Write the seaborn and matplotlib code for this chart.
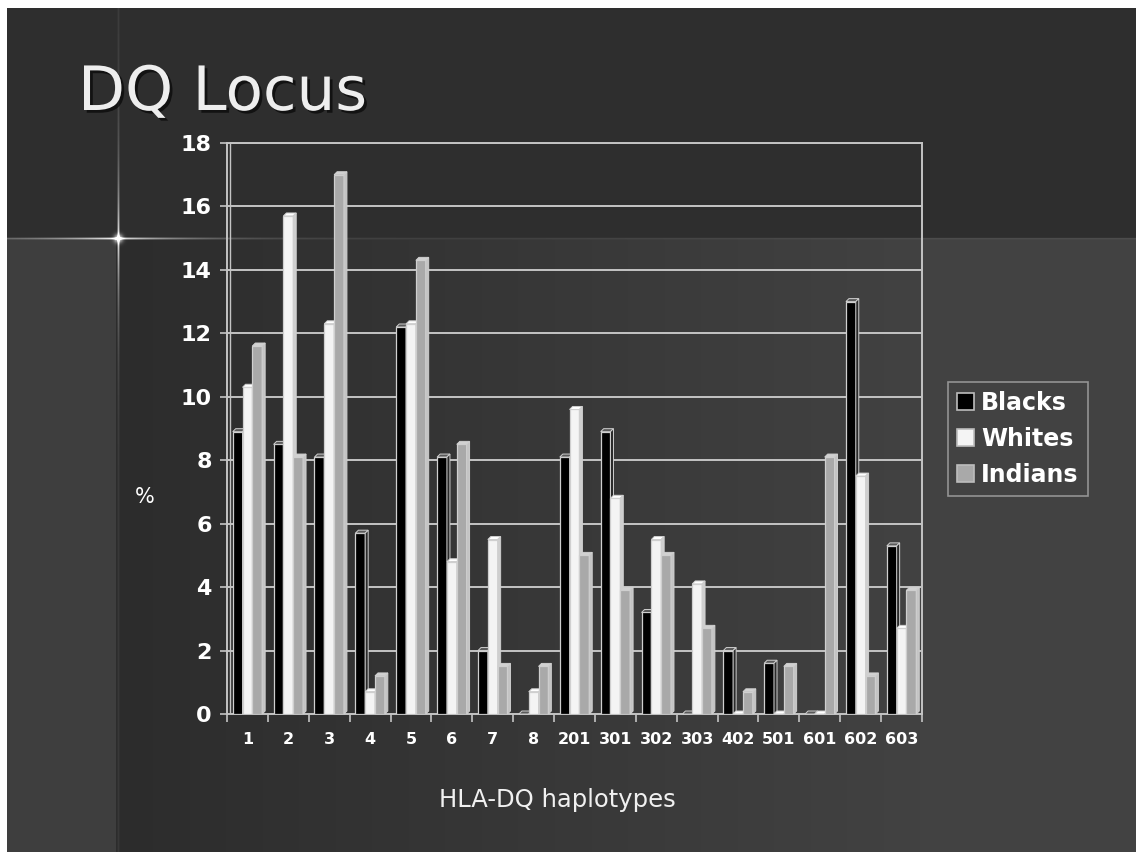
import numpy as np
import pandas as pd
import matplotlib
matplotlib.use("Agg")
import matplotlib.pyplot as plt
import seaborn as sns
from matplotlib.patches import Patch, Polygon
from matplotlib import patheffects as pe

# HLA-DQ haplotype frequencies (%) by population
haplotypes = ["1", "2", "3", "4", "5", "6", "7", "8", "201", "301", "302",
              "303", "402", "501", "601", "602", "603"]
blacks = [8.9, 8.5, 8.1, 5.7, 12.2, 8.1, 2.0, 0.0, 8.1, 8.9, 3.2,
          0.0, 2.0, 1.6, 0.0, 13.0, 5.3]
whites = [10.3, 15.7, 12.3, 0.7, 12.3, 4.8, 5.5, 0.7, 9.6, 6.8, 5.5,
          4.1, 0.0, 0.0, 0.0, 7.5, 2.7]
indians = [11.6, 8.1, 17.0, 1.2, 14.3, 8.5, 1.5, 1.5, 5.0, 3.9, 5.0,
           2.7, 0.7, 1.5, 8.1, 1.2, 3.9]
groups = ["Blacks", "Whites", "Indians"]
y_ticks = [0, 2, 4, 6, 8, 10, 12, 14, 16, 18]

df = pd.DataFrame({
    "haplotype": haplotypes * 3,
    "pct": blacks + whites + indians,
    "group": [g for g in groups for _ in haplotypes],
})

face = {"Blacks": "#000000", "Whites": "#f4f4f4", "Indians": "#a9a9a9"}
cap = {"Blacks": "#5a5a5a", "Whites": "#ffffff", "Indians": "#d2d2d2"}
side = {"Blacks": "#2a2a2a", "Whites": "#cfcfcf", "Indians": "#c4c4c4"}
edge = "#cfcfcf"
grid_c = "#c4c4c4"

W, H, DPI = 1136, 852, 100
fig = plt.figure(figsize=(W / DPI, H / DPI), dpi=DPI)

# ---- slide background ----
bg = np.full((H, W), 46.0)
xs = np.arange(W)
ys = np.arange(H)
band = 238
grad = 44 + np.clip((xs - 116) / (920 - 116), 0, 1) * 22
bg[band:, :] = grad[None, :]
bg[band:, :116] = 62
# sparkle at (118, 238)
cx, cy = 118, 238
vx = np.exp(-np.abs(ys - cy) / 50.0) * 180 + 12
hx = np.exp(-np.abs(xs - cx) / 65.0) * 180 + 10
for off, k in ((0, 1.0), (-1, 0.4), (1, 0.4)):
    bg[:, cx + off] += vx * k
    bg[cy + off, :] += hx * k
YY, XX = np.mgrid[0:H, 0:W]
bg += 200 * np.exp(-((XX - cx) ** 2 + (YY - cy) ** 2) / (2 * 3.0 ** 2))
bg[:8, :] = 255
bg[:, :7] = 255
bg = np.clip(bg, 0, 255) / 255.0
img = np.dstack([bg, bg, bg])
fig.figimage(img, xo=0, yo=0, origin="upper", zorder=-10)

sns.set_style("dark")

ax = fig.add_axes([227 / W, 1 - 714 / H, (922 - 227) / W, (714 - 143) / H])
ax.set_zorder(2)
ax.set_facecolor("none")

sns.barplot(data=df, x="haplotype", y="pct", hue="group", order=haplotypes,
            hue_order=groups, palette=face, width=0.72, errorbar=None,
            edgecolor=edge, linewidth=0.9, legend=False, ax=ax)

# pseudo-3D caps and side faces derived from each bar
dx = 3 / 40.9
dy = 3 / 31.7
for i, (g, cont) in enumerate(zip(groups, ax.containers)):
    z = 3 + i * 0.1
    for bar in cont:
        bar.set_zorder(z)
        x0, w, h = bar.get_x(), bar.get_width(), bar.get_height()
        top = Polygon([(x0, h), (x0 + dx, h + dy), (x0 + w + dx, h + dy), (x0 + w, h)],
                      closed=True, facecolor=cap[g], edgecolor=edge, lw=0.7,
                      zorder=z + 0.01, clip_on=False)
        sd = Polygon([(x0 + w, 0), (x0 + w + dx, dy), (x0 + w + dx, h + dy), (x0 + w, h)],
                     closed=True, facecolor=side[g], edgecolor=edge, lw=0.7,
                     zorder=z + 0.01, clip_on=False)
        ax.add_patch(top)
        ax.add_patch(sd)

ax.set_xlim(-0.5, len(haplotypes) - 0.5)
ax.set_ylim(0, 18)
ax.set_yticks(y_ticks)
ax.set_yticklabels([str(t) for t in y_ticks])
ax.set_xlabel("")
ax.set_ylabel("")
ax.grid(False)

for t in y_ticks[1:]:
    ax.axhline(t, color=grid_c, lw=1.4, zorder=1)
ax.axvline(-0.5 + 3 / 40.9, color=grid_c, lw=1.0, zorder=1)

for s in ax.spines.values():
    s.set_visible(True)
    s.set_color(grid_c)
    s.set_linewidth(1.4)

ax.set_xticks(np.arange(-0.5, len(haplotypes)), minor=True)
ax.tick_params(axis="x", which="major", bottom=True, length=0, pad=13,
               labelsize=11.5)
ax.tick_params(axis="x", which="minor", bottom=True, length=6, width=1.2,
               color=grid_c, direction="out")
ax.tick_params(axis="y", which="major", left=True, length=5, width=1.2,
               color=grid_c, direction="out", pad=6, labelsize=16)
for lab in ax.get_xticklabels() + ax.get_yticklabels():
    lab.set_fontfamily("DejaVu Sans")
    lab.set_fontweight("bold")
    lab.set_color("white")

# legend
handles = [Patch(facecolor=face[g], edgecolor="#bdbdbd", linewidth=1.2, label=g)
           for g in groups]
leg = fig.legend(handles=handles, loc="upper left",
                 bbox_to_anchor=(948 / W, 1 - 382 / H),
                 frameon=True, fancybox=False, facecolor="none",
                 prop={"family": "DejaVu Sans", "weight": "bold", "size": 17},
                 handlelength=0.72, handleheight=0.72, handletextpad=0.3,
                 labelspacing=0.5, borderpad=0.38, borderaxespad=0)
leg.get_frame().set_edgecolor("#a8a8a8")
leg.get_frame().set_linewidth(1.2)
for t in leg.get_texts():
    t.set_color("white")

# titles and labels
fig.text(78 / W, 1 - 110 / H, "DQ Locus", ha="left", va="baseline",
         fontsize=44, color="#eeeeee", family="DejaVu Sans",
         path_effects=[pe.withSimplePatchShadow(offset=(2, -2),
                                                shadow_rgbFace="black", alpha=0.6)])
fig.text(145 / W, 1 - 497 / H, "%", ha="center", va="center", fontsize=15,
         color="white", family="DejaVu Sans")
fig.text(557 / W, 1 - 800 / H, "HLA-DQ haplotypes", ha="center", va="center",
         fontsize=17.5, color="#f0f0f0", family="DejaVu Sans")

fig.savefig("out.png", dpi=DPI)
